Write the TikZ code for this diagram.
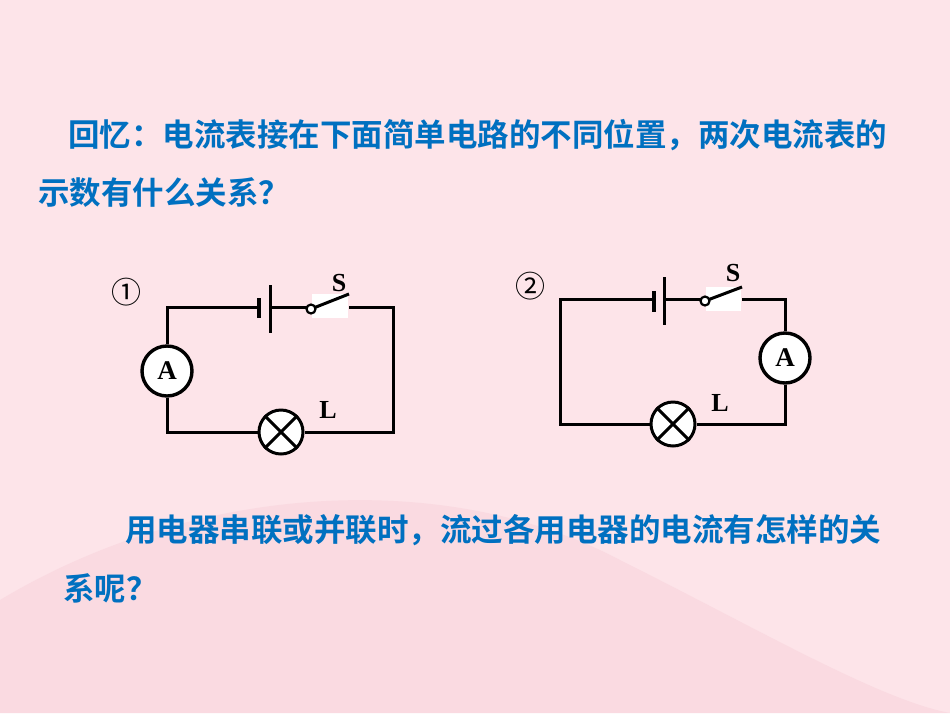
\documentclass[tikz,border=0pt]{standalone}
\usepackage{fontspec}
\setmainfont{Liberation Serif}
\newfontfamily\cjk{Noto Sans CJK SC Bold}
\newfontfamily\cjkreg{Noto Sans CJK SC}
\definecolor{bg}{RGB}{253,228,233}
\definecolor{wave}{RGB}{250,218,225}
\definecolor{txt}{RGB}{0,112,192}
\tikzset{
 wire/.style={line width=3pt},
 meter/.style={circle,draw,line width=3.4pt,fill=white,minimum size=50pt,inner sep=0pt,font=\bfseries\fontsize{27}{27}\selectfont},
 lamp/.style={circle,draw,line width=3pt,fill=white,minimum size=44pt,inner sep=0pt},
 lbl/.style={font=\bfseries\fontsize{26}{26}\selectfont},
 num/.style={font=\cjkreg\fontsize{30}{30}\selectfont},
 cn/.style={text=txt,font=\cjk\fontsize{31.5}{31.5}\selectfont,anchor=west,inner sep=0pt},
}
\begin{document}
\begin{tikzpicture}[x=1pt,y=-1pt]
\useasboundingbox (0,0) rectangle (950,713);
\fill[bg] (0,0) rectangle (950,713);
\fill[wave] (0,713) -- (0,600) .. controls (200,480) and (450,470) .. (620,560) .. controls (760,630) and (880,700) .. (950,713) -- cycle;
\node[cn] (t1) at (68,135) {回忆：电流表接在下面简单电路的不同位置，两次电流表的};
\node[cn] (t2) at (38,193) {示数有什么关系？};
\node[cn] (t3) at (125,530) {用电器串联或并联时，流过各用电器的电流有怎样的关};
\node[cn] (t4) at (63,588) {系呢？};

% circuit 1
\node[num] (n1) at (126,292) {①};
\coordinate (a1) at (166,307); \coordinate (b1) at (393,307);
\coordinate (c1) at (393,432); \coordinate (d1) at (166,432);
\fill[white] (312,294) rectangle (348,318);
\node[meter] (A1) at (167,371) {A};
\node[lamp] (L1) at (281,432) {};
\draw[wire] (L1.north west) -- (L1.south east) (L1.north east) -- (L1.south west);
\coordinate (bl1) at (259,307); \coordinate (br1) at (270,307);
\coordinate (s1) at (311,309); \coordinate (se1) at (349,294); \coordinate (sr1) at (349,307);
\draw[wire] (A1.north) |- (bl1);
\draw[line width=4pt] (259,298) -- (259,318);
\draw[wire] (270,285) -- (270,333);
\draw[wire] (br1) -- (307,307);
\draw[wire] (s1) -- (se1);
\draw[line width=2.2pt,fill=white] (s1) circle (4.5);
\draw[wire] (sr1) -- (b1) -- (c1) -- (L1.east);
\draw[wire] (L1.west) -| (A1.south);
\node[lbl] (S1) at (339,283) {S};
\node[lbl] (LL1) at (328,410) {L};

% circuit 2
\node[num] (n2) at (530,286) {②};
\coordinate (a2) at (560,299); \coordinate (b2) at (786,299);
\coordinate (c2) at (786,424); \coordinate (d2) at (560,424);
\fill[white] (706,287) rectangle (741,311);
\node[meter] (A2) at (785,358) {A};
\node[lamp] (L2) at (673,424) {};
\draw[wire] (L2.north west) -- (L2.south east) (L2.north east) -- (L2.south west);
\coordinate (s2) at (705,301); \coordinate (se2) at (742,287); \coordinate (sr2) at (742,299);
\draw[wire] (L2.west) -- (d2) -- (a2) -- (654,299);
\draw[line width=4pt] (654,291) -- (654,312);
\draw[wire] (664,277) -- (664,325);
\draw[wire] (664,299) -- (701,299);
\draw[wire] (s2) -- (se2);
\draw[line width=2.2pt,fill=white] (s2) circle (4.5);
\draw[wire] (sr2) -| (A2.north);
\draw[wire] (A2.south) |- (L2.east);
\node[lbl] (S2) at (733,273) {S};
\node[lbl] (LL2) at (720,403) {L};
\end{tikzpicture}
\end{document}
